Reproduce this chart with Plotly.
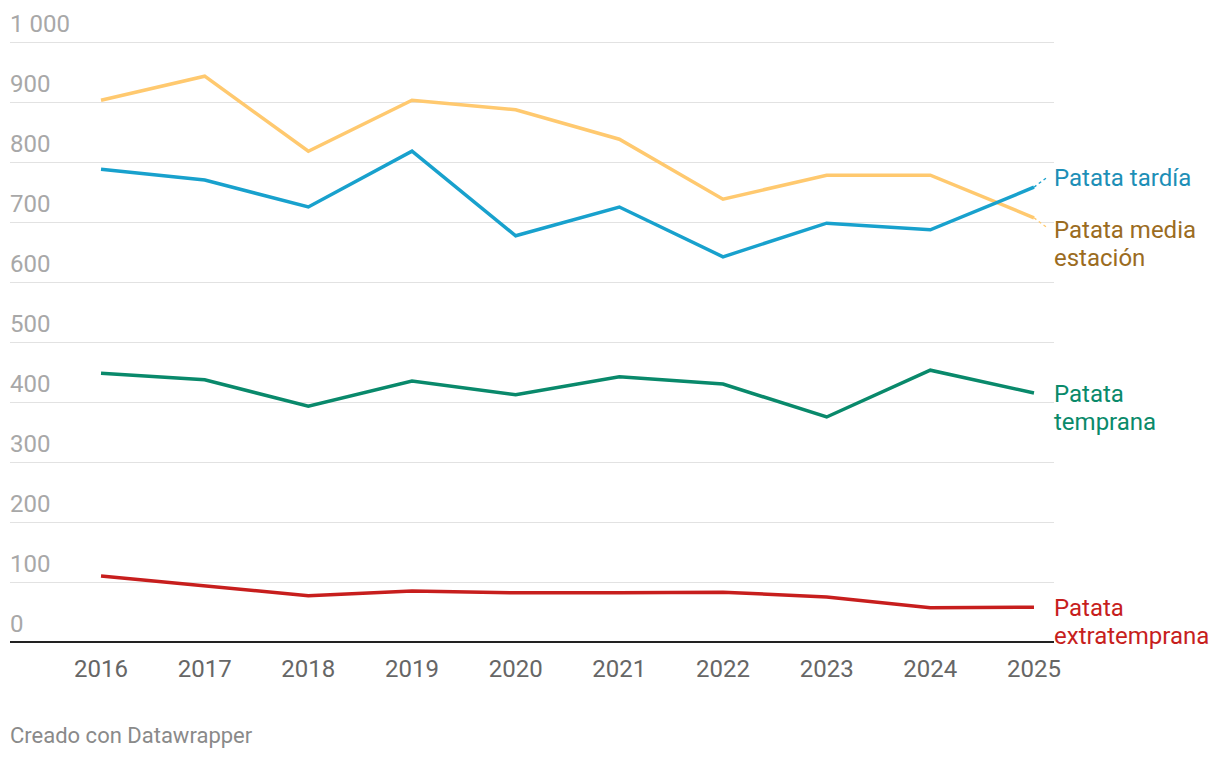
import plotly.graph_objects as go

years = [2016, 2017, 2018, 2019, 2020, 2021, 2022, 2023, 2024, 2025]
media_estacion = [903, 943, 818, 903, 887, 838, 738, 778, 778, 707]
tardia = [788, 770, 725, 818, 677, 725, 642, 698, 687, 758]
temprana = [448, 437, 393, 435, 412, 442, 430, 375, 453, 415]
extratemprana = [110, 93, 77, 85, 82, 82, 83, 75, 57, 58]

y_ticks = [0, 100, 200, 300, 400, 500, 600, 700, 800, 900, 1000]
y_tick_labels = ["0", "100", "200", "300", "400", "500", "600", "700", "800", "900", "1 000"]

# (label lines, values, line colour, text colour, label line y-values, connector end)
series = [
    (["Patata media", "estación"], media_estacion, "#ffc96f", "#9b6c1f", [687, 640], 690),
    (["Patata tardía"], tardia, "#18a1cd", "#1d8fb7", [773], 775),
    (["Patata", "temprana"], temprana, "#09896b", "#0a8a6a", [413, 367], None),
    (["Patata", "extratemprana"], extratemprana, "#c71e1d", "#c71e1d", [57, 10], None),
]

fig = go.Figure()
annotations = []
for lines, vals, col, tcol, label_ys, conn_y in series:
    fig.add_trace(go.Scatter(x=years, y=vals, mode="lines",
                             line=dict(color=col, width=3.5), hoverinfo="skip"))
    if conn_y is not None:
        fig.add_trace(go.Scatter(x=[years[-1], years[-1] + 0.13], y=[vals[-1], conn_y],
                                 mode="lines", line=dict(color=col, width=1.3, dash="dot"),
                                 hoverinfo="skip"))
    for txt, ly in zip(lines, label_ys):
        annotations.append(dict(xref="paper", yref="y", x=1, y=ly, text=txt,
                                xanchor="left", yanchor="middle", align="left", xshift=-2,
                                showarrow=False,
                                font=dict(family="Roboto", size=24, color=tcol)))

for v, t in zip(y_ticks, y_tick_labels):
    annotations.append(dict(xref="paper", yref="y", x=0, y=v, text=t, xanchor="left",
                            yanchor="middle", yshift=18, xshift=-2, showarrow=False,
                            font=dict(family="Roboto", size=24, color="#a8a8a8")))

annotations.append(dict(xref="paper", yref="y", x=0, y=0, text="Creado con Datawrapper",
                        xanchor="left", yanchor="middle", yshift=-93, xshift=-2,
                        showarrow=False,
                        font=dict(family="Roboto", size=22, color="#8a8a8a")))

fig.update_layout(
    width=1204, height=742,
    margin=dict(l=2, r=158, t=31, b=108),
    plot_bgcolor="white", paper_bgcolor="white",
    showlegend=False,
    annotations=annotations,
    font=dict(family="Roboto"),
    xaxis=dict(range=[2015.122, 2025.193], tickmode="array", tickvals=years,
               ticktext=[str(y) for y in years], showgrid=False, zeroline=False,
               showline=False, ticks="", ticklabelstandoff=10,
               tickfont=dict(family="Roboto", size=24, color="#666666")),
    yaxis=dict(range=[0, 1005], tickmode="array", tickvals=y_ticks, showticklabels=False,
               showgrid=True, gridcolor="#e2e2e2", gridwidth=1, zeroline=True,
               zerolinecolor="#222222", zerolinewidth=2, showline=False, ticks=""),
)

fig.write_html("out.html")
